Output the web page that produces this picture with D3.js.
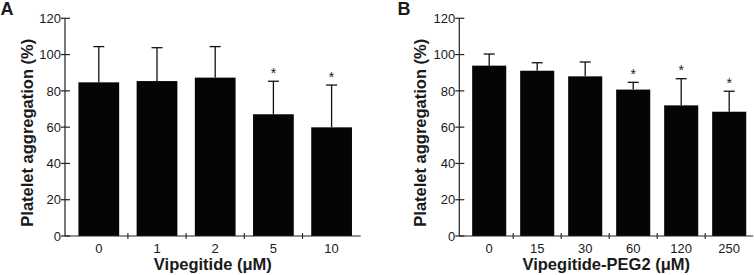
<!DOCTYPE html>
<html><head><meta charset="utf-8">
<script src="https://cdn.jsdelivr.net/npm/d3@7/dist/d3.min.js"></script>
<style>body{margin:0;background:#fff}svg{display:block;font-family:"Liberation Sans",Arial,sans-serif}</style>
</head><body>
<svg id="c" width="754" height="275"></svg>
<script>
const catsA = ["0","1","2","5","10"];
const meanA = [84.7, 85.4, 87.3, 67.1, 59.9];
const errA  = [104.4, 103.8, 104.4, 85.3, 83.2];
const sigA  = [false, false, false, true, true];

const catsB = ["0","15","30","60","120","250"];
const meanB = [93.9, 91.1, 88.0, 80.7, 72.0, 68.5];
const errB  = [100.3, 95.5, 95.9, 84.7, 86.7, 79.8];
const sigB  = [false, false, false, true, true, true];

const yTicks = [0,20,40,60,80,100,120];

const svg = d3.select("#c");
const txt = "#1a1a1a";

function panel(cfg){
  const g = svg.append("g");
  const y = d3.scaleLinear().domain([0,120]).range([236,18.3]);
  const x = d3.scaleBand().domain(cfg.cats).range(cfg.range)
    .paddingInner(cfg.pi).paddingOuter(cfg.pi/2);
  const bw = x.bandwidth(), step = x.step();
  g.selectAll("rect.bar").data(cfg.cats).enter().append("rect")
    .attr("x", d=>x(d)).attr("width", bw)
    .attr("y", (d,i)=>y(cfg.mean[i])).attr("height",(d,i)=>y(0)-y(cfg.mean[i]))
    .attr("fill","#050505");
  cfg.cats.forEach((c,i)=>{
    const cx = x(c)+bw/2;
    g.append("line").attr("x1",cx).attr("x2",cx).attr("y1",y(cfg.mean[i])).attr("y2",y(cfg.err[i]))
      .attr("stroke","#111").attr("stroke-width",1.3);
    g.append("line").attr("x1",cx-5.5).attr("x2",cx+5.5).attr("y1",y(cfg.err[i])).attr("y2",y(cfg.err[i]))
      .attr("stroke","#111").attr("stroke-width",1.3);
    if(cfg.sig[i]) g.append("text").attr("x",cx).attr("y",y(cfg.err[i])-3.5)
      .attr("text-anchor","middle").attr("font-size",14).attr("fill",txt).text("*");
  });
  const ax = cfg.axisX;
  g.append("line").attr("x1",ax).attr("x2",ax).attr("y1",y(0)).attr("y2",y(120)).attr("stroke","#222").attr("stroke-width",1.2);
  yTicks.forEach(t=>{
    g.append("line").attr("x1",ax-4).attr("x2",ax+5).attr("y1",y(t)).attr("y2",y(t)).attr("stroke","#222").attr("stroke-width",1.2);
    g.append("text").attr("x",ax-4).attr("y",y(t)).attr("dy","0.36em").attr("text-anchor","end")
      .attr("font-size",13).attr("fill",txt).text(t);
  });
  g.append("line").attr("x1",ax).attr("x2",cfg.range[1]).attr("y1",y(0)).attr("y2",y(0)).attr("stroke","#222").attr("stroke-width",1.2);
  cfg.cats.slice(0,-1).forEach(c=>{
    const bx = x(c)+bw+(step-bw)/2;
    g.append("line").attr("x1",bx).attr("x2",bx).attr("y1",y(0)-3).attr("y2",y(0)+3).attr("stroke","#222").attr("stroke-width",1.1);
  });
  cfg.cats.forEach(c=>{
    g.append("text").attr("x",x(c)+bw/2).attr("y",252.5).attr("text-anchor","middle")
      .attr("font-size",13).attr("fill",txt).text(c);
  });
  g.append("text").attr("x",(ax+cfg.range[1])/2).attr("y",270).attr("text-anchor","middle")
    .attr("font-size",16.5).attr("font-weight","bold").attr("fill",txt).text(cfg.xlabel);
  g.append("text").attr("transform",`translate(${cfg.ylabX},132.7) rotate(-90)`).attr("text-anchor","middle")
    .attr("font-size",16.5).attr("font-weight","bold").attr("fill",txt).text("Platelet aggregation (%)");
  g.append("text").attr("x",cfg.letterX).attr("y",14.5).attr("font-size",18).attr("font-weight","bold").attr("fill",txt).text(cfg.letter);
}

panel({cats:catsA, mean:meanA, err:errA, sig:sigA, range:[69.7,360.7], pi:0.3, axisX:65,
  xlabel:"Vipegitide (μM)", ylabX:33, letter:"A", letterX:0.5});
panel({cats:catsB, mean:meanB, err:errB, sig:sigB, range:[465.2,753.2], pi:0.29, axisX:459.3,
  xlabel:"Vipegitide-PEG2 (μM)", ylabX:426, letter:"B", letterX:397.5});
</script>
</body></html>
